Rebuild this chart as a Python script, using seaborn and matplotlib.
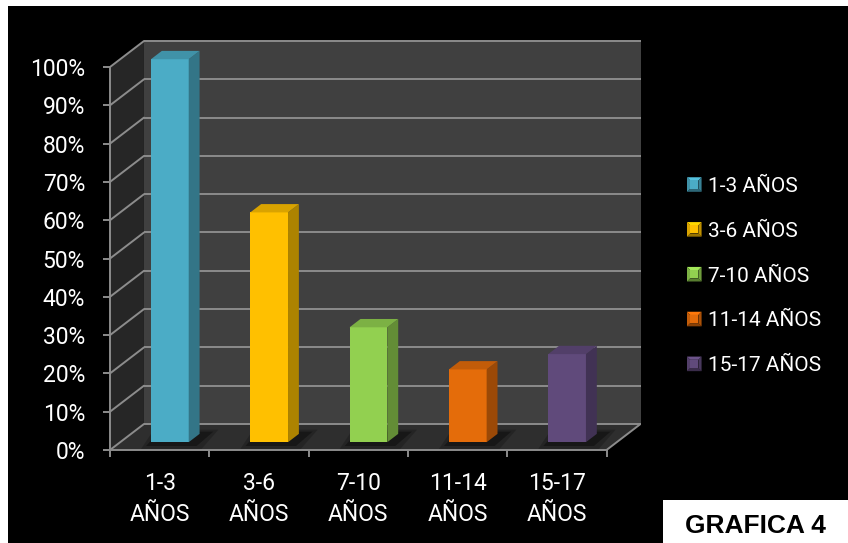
import numpy as np
import pandas as pd
import matplotlib
matplotlib.use("Agg")
import matplotlib.pyplot as plt
import seaborn as sns
from matplotlib.colors import to_rgb
from matplotlib.patches import Polygon, Rectangle
from matplotlib.legend_handler import HandlerPatch

# Datos
grupos = ["1-3 AÑOS", "3-6 AÑOS", "7-10 AÑOS", "11-14 AÑOS", "15-17 AÑOS"]
etiquetas_x = ["1-3\nAÑOS", "3-6\nAÑOS", "7-10\nAÑOS", "11-14\nAÑOS", "15-17\nAÑOS"]
porcentajes = [100, 60, 30, 19, 23]
colores = ["#4bacc6", "#ffc000", "#92d050", "#e46c0a", "#604a7b"]
ticks_y = [0, 10, 20, 30, 40, 50, 60, 70, 80, 90, 100]

sns.set_style("white")
plt.rcParams["font.family"] = ["Roboto", "DejaVu Sans"]

W, H = 848, 543
fig = plt.figure(figsize=(W / 100, H / 100), dpi=100, facecolor="white")
fig.patches.append(Rectangle((8 / W, 0), 1 - 8 / W, 1 - 6 / H, transform=fig.transFigure,
                             facecolor="black", edgecolor="none", zorder=-10))

ax = fig.add_axes([110 / W, 93 / H, 531.3 / W, 409.8 / H])
ax.set_facecolor("none")

# Profundidad de la caja 3D (en unidades de datos)
DX, DY = 0.342, 6.79
F0, T = 0.30, 0.32      # posición y grosor de las barras dentro de la profundidad
GRID = "#8c8c8c"

df = pd.DataFrame({"grupo": grupos, "pct": porcentajes})
sns.barplot(data=df, x="grupo", y="pct", hue="grupo", palette=colores, saturation=1,
            width=0.38, legend=True, ax=ax, zorder=5, linewidth=0)

x_izq, x_der = -0.5, len(grupos) - 0.5
ax.set_xlim(x_izq, 4.85)
ax.set_ylim(0, 107)

# Paredes y suelo
ax.add_patch(Polygon([(x_izq + DX, DY), (x_der + DX, DY), (x_der + DX, 100 + DY),
                      (x_izq + DX, 100 + DY)], closed=True, facecolor="#404040",
                     edgecolor="none", zorder=0))
ax.add_patch(Polygon([(x_izq, 0), (x_izq + DX, DY), (x_izq + DX, 100 + DY), (x_izq, 100)],
                     closed=True, facecolor="#262626", edgecolor="none", zorder=0))
ax.add_patch(Polygon([(x_izq, 0), (x_der, 0), (x_der + DX, DY), (x_izq + DX, DY)],
                     closed=True, facecolor="#2e2e2e", edgecolor="none", zorder=1))

for t in ticks_y:
    ax.plot([x_izq + DX, x_der + DX], [t + DY, t + DY], color=GRID, lw=1.4, zorder=2,
            solid_capstyle="butt")
    ax.plot([x_izq, x_izq + DX], [t, t + DY], color=GRID, lw=1.4, zorder=2)
ax.plot([x_der, x_der + DX], [0, DY], color=GRID, lw=1.4, zorder=2)


def sombra(c, k):
    return tuple(np.clip(np.array(to_rgb(c)) * k, 0, 1))


# Barras con sombra en el suelo y caras lateral y superior
barras = [p for p in ax.patches if isinstance(p, Rectangle) and p.get_height() > 0]
for p in barras:
    x0, w, h = p.get_x(), p.get_width(), p.get_height()
    x0 += F0 * DX
    y0 = F0 * DY
    p.set_x(x0)
    p.set_y(y0)
    c = p.get_facecolor()
    x1 = x0 + w
    for ex, a in [(0.0, 0.35), (0.05, 0.2)]:
        ax.add_patch(Polygon([(x0 - 0.05 - ex, y0 - 1.0 - ex * 15), (x1 + 0.08 + ex, y0 - 1.0 - ex * 15),
                              (x1 + T * DX + 0.14 + ex, y0 + T * DY + 0.6 + ex * 10),
                              (x0 + T * DX - 0.03 - ex, y0 + T * DY + 0.6 + ex * 10)],
                             closed=True, facecolor="black", edgecolor="none", alpha=a,
                             zorder=1.5))
    ax.add_patch(Polygon([(x1, y0), (x1 + T * DX, y0 + T * DY), (x1 + T * DX, y0 + h + T * DY),
                          (x1, y0 + h)], closed=True, facecolor=sombra(c, 0.68),
                         edgecolor="none", zorder=5))
    ax.add_patch(Polygon([(x0, y0 + h), (x1, y0 + h), (x1 + T * DX, y0 + h + T * DY),
                          (x0 + T * DX, y0 + h + T * DY)], closed=True,
                         facecolor=sombra(c, 0.85), edgecolor="none", zorder=5))

# Ejes
for s in ["top", "right"]:
    ax.spines[s].set_visible(False)
for s in ["left", "bottom"]:
    ax.spines[s].set_color(GRID)
    ax.spines[s].set_linewidth(1.4)
    ax.spines[s].set_zorder(3)
ax.spines["left"].set_bounds(0, 100)
ax.spines["bottom"].set_bounds(x_izq, x_der)

ax.set_yticks(ticks_y, [f"{t}%" for t in ticks_y])
ax.set_xticks(range(len(grupos)), etiquetas_x)
ax.set_xticks(np.arange(x_izq, x_der + 0.01, 1), minor=True)
ax.tick_params(axis="y", colors=GRID, labelcolor="white", labelsize=16.5, length=5,
               width=1.4, pad=13, left=True)
ax.tick_params(axis="x", which="major", labelcolor="white", labelsize=16.5, length=0, pad=16)
ax.tick_params(axis="x", which="minor", colors=GRID, length=5, width=1.4, bottom=True)
ax.set_xlabel("")
ax.set_ylabel("")
for lab in ax.get_xticklabels():
    lab.set_linespacing(1.42)


# Leyenda con marcadores biselados
class Bisel(HandlerPatch):
    def create_artists(self, legend, orig_handle, xdescent, ydescent, width, height,
                       fontsize, trans):
        c = orig_handle.get_facecolor()
        s = min(width, height)
        x0 = -xdescent + (width - s) / 2
        y0 = -ydescent + (height - s) / 2
        x1, y1 = x0 + s, y0 + s
        i = s * 0.22
        piezas = [
            Polygon([(x0, y1), (x1, y1), (x1 - i, y1 - i), (x0 + i, y1 - i)], facecolor=sombra(c, 1.12)),
            Polygon([(x0, y0), (x1, y0), (x1 - i, y0 + i), (x0 + i, y0 + i)], facecolor=sombra(c, 0.6)),
            Polygon([(x0, y0), (x0, y1), (x0 + i, y1 - i), (x0 + i, y0 + i)], facecolor=sombra(c, 0.85)),
            Polygon([(x1, y0), (x1, y1), (x1 - i, y1 - i), (x1 - i, y0 + i)], facecolor=sombra(c, 0.75)),
            Rectangle((x0 + i, y0 + i), s - 2 * i, s - 2 * i, facecolor=c),
        ]
        for pz in piezas:
            pz.set_edgecolor("none")
            pz.set_transform(trans)
        return piezas


handles, labels = ax.get_legend_handles_labels()
if ax.legend_ is not None:
    ax.legend_.remove()
fig.legend(handles, labels, handler_map={h: Bisel() for h in handles},
           loc="center left", bbox_to_anchor=(687 / W, 1 - 276 / H),
           bbox_transform=fig.transFigure, frameon=False, fontsize=15,
           labelcolor="white", handlelength=0.7, handleheight=0.7, handletextpad=0.3,
           labelspacing=1.24, borderpad=0, borderaxespad=0)

# Rótulo
fig.patches.append(Rectangle((663 / W, 0), 1 - 663 / W, 43 / H, transform=fig.transFigure,
                             facecolor="white", edgecolor="none", zorder=5))
fig.text(755 / W, 1 - 526 / H, "GRAFICA 4", ha="center", va="center", fontsize=19,
         fontweight="bold", color="black", family=["Liberation Sans", "DejaVu Sans"], zorder=6)

fig.savefig("out.png", dpi=100, facecolor="white")
